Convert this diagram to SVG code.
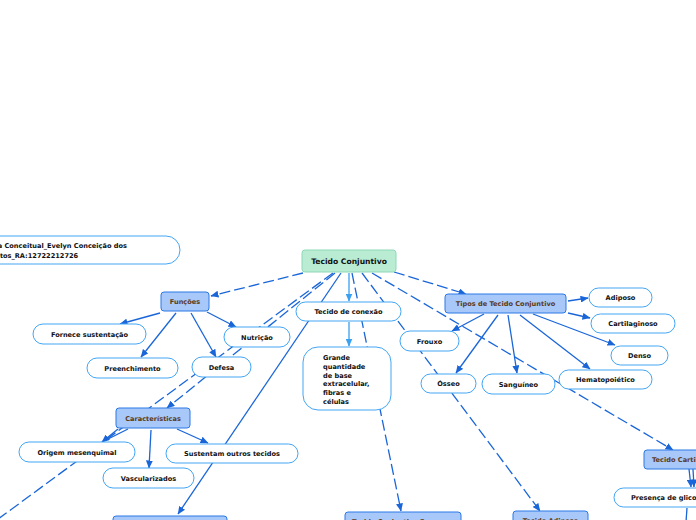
<svg xmlns="http://www.w3.org/2000/svg" width="696" height="520" viewBox="0 0 696 520">
<defs>
<marker id="ah" viewBox="0 0 8 7" refX="7.5" refY="3.5" markerWidth="8" markerHeight="7" markerUnits="userSpaceOnUse" orient="auto"><path d="M0,0 L8,3.5 L0,7 z" fill="#1a66d9"/></marker>
<marker id="ahl" viewBox="0 0 8 7" refX="7.5" refY="3.5" markerWidth="8" markerHeight="7" markerUnits="userSpaceOnUse" orient="auto"><path d="M0,0 L8,3.5 L0,7 z" fill="#3aa0f0"/></marker>
<style>
.e{fill:none;stroke:#1a66d9;stroke-width:1.3}
.d{stroke-dasharray:11 4}
.l{fill:none;stroke:#3aa0f0;stroke-width:1.3}
.w{fill:#fff;stroke:#42a5f5;stroke-width:1}
.b{fill:#a8c8fa;stroke:#2b78e4;stroke-width:1}
.r{fill:#b9ecd3;stroke:#8fd8b8;stroke-width:1}
text{font-family:"DejaVu Sans",Verdana,sans-serif;font-weight:bold;font-size:6.6px;fill:#111}
.bt{fill:#5b3a1a}
.c{text-anchor:middle}
</style>
</defs>
<rect width="696" height="520" fill="#fff"/>
<g id="connectors">
<path class="e d" d="M303,273 L211,296" marker-end="url(#ah)"/>
<path class="e d" d="M333,273 L-10,525"/>
<path class="e d" d="M335,273 L167,408" marker-end="url(#ah)"/>
<path class="e" d="M341,273 L178,514" marker-end="url(#ah)"/>
<path class="l" d="M349,273 L349,301" marker-end="url(#ahl)"/>
<path class="l" d="M349,322 L349,346" marker-end="url(#ahl)"/>
<path class="e d" d="M352,273 L401,511" marker-end="url(#ah)"/>
<path class="e d" d="M362,273 L540,511" marker-end="url(#ah)"/>
<path class="e d" d="M372,273 L673,450" marker-end="url(#ah)"/>
<path class="e d" d="M394,272 L466,294" marker-end="url(#ah)"/>
<path class="e" d="M160,313 L120,324" marker-end="url(#ah)"/>
<path class="e" d="M176,313 L141,357" marker-end="url(#ah)"/>
<path class="e" d="M191,313 L216,357" marker-end="url(#ah)"/>
<path class="e" d="M207,312 L236,327" marker-end="url(#ah)"/>
<path class="e" d="M118,429 L102,442" marker-end="url(#ah)"/>
<path class="e" d="M128,429 L102,442"/>
<path class="e" d="M151,430 L149,468" marker-end="url(#ah)"/>
<path class="e" d="M177,429 L208,443" marker-end="url(#ah)"/>
<path class="e" d="M568,301 L588,298" marker-end="url(#ah)"/>
<path class="e" d="M568,313 L590,318" marker-end="url(#ah)"/>
<path class="e" d="M533,314 L615,345" marker-end="url(#ah)"/>
<path class="e" d="M520,315 L590,369" marker-end="url(#ah)"/>
<path class="e" d="M508,315 L517,373" marker-end="url(#ah)"/>
<path class="e" d="M498,315 L456,373" marker-end="url(#ah)"/>
<path class="e" d="M484,314 L452,331" marker-end="url(#ah)"/>
<path class="e" d="M689,469 L691,487" marker-end="url(#ah)"/>
<path class="e" d="M693,469 L694,487" marker-end="url(#ah)"/>
<path class="e" d="M687,508 L686,522"/>
</g>
<g id="title"><rect class="w" x="-40" y="236" width="220" height="28" rx="14"/><text x="-18" y="248">Mapa Conceitual_Evelyn Conceição dos</text><text x="-14" y="257.5">Santos_RA:12722212726</text></g>
<g id="root"><rect class="r" x="302" y="250" width="94" height="22" rx="3"/><text class="c" x="349" y="264" style="font-size:7.6px">Tecido Conjuntivo</text></g>
<g id="funcoes"><rect class="b" x="161" y="292" width="48" height="19" rx="3"/><text class="c bt" x="185" y="304">Funções</text></g>
<g id="fornece"><rect class="w" x="33" y="324" width="113" height="20" rx="10"/><text class="c" x="89.5" y="336.5">Fornece sustentação</text></g>
<g id="preenchimento"><rect class="w" x="87" y="358" width="91" height="20" rx="10"/><text class="c" x="132.5" y="370.5">Preenchimento</text></g>
<g id="defesa"><rect class="w" x="192" y="357" width="59" height="20" rx="10"/><text class="c" x="221.5" y="369.5">Defesa</text></g>
<g id="nutricao"><rect class="w" x="224" y="327" width="66" height="20" rx="10"/><text class="c" x="257" y="339.5">Nutrição</text></g>
<g id="caracteristicas"><rect class="b" x="116" y="408" width="74" height="20" rx="3"/><text class="c bt" x="153" y="420.5">Características</text></g>
<g id="origem"><rect class="w" x="19" y="442" width="116" height="20" rx="10"/><text class="c" x="77" y="454.5">Origem mesenquimal</text></g>
<g id="vascularizados"><rect class="w" x="103" y="468" width="91" height="20" rx="10"/><text class="c" x="148.5" y="480.5">Vascularizados</text></g>
<g id="sustentam"><rect class="w" x="166" y="444" width="132" height="19" rx="9.5"/><text class="c" x="232" y="456">Sustentam outros tecidos</text></g>
<g id="conexao"><rect class="w" x="296" y="302" width="105" height="19" rx="9.5"/><text class="c" x="348.5" y="314">Tecido de conexão</text></g>
<g id="grande"><rect class="w" x="303" y="347" width="88" height="63" rx="15"/>
<text x="323" y="360">Grande</text><text x="323" y="369">quantidade</text><text x="323" y="377.5">de base</text><text x="323" y="386">extracelular,</text><text x="323" y="394.5">fibras e</text><text x="323" y="403.5">células</text></g>
<g id="tipos"><rect class="b" x="445" y="294" width="121" height="19" rx="3"/><text class="c bt" x="505.5" y="306">Tipos de Tecido Conjuntivo</text></g>
<g id="adiposo"><rect class="w" x="589" y="288" width="63" height="19" rx="9.5"/><text class="c" x="620.5" y="300">Adiposo</text></g>
<g id="cartilaginoso"><rect class="w" x="591" y="314" width="84" height="19" rx="9.5"/><text class="c" x="633" y="326">Cartilaginoso</text></g>
<g id="denso"><rect class="w" x="611" y="346" width="57" height="19" rx="9.5"/><text class="c" x="639.5" y="358">Denso</text></g>
<g id="hematopoietico"><rect class="w" x="559" y="370" width="93" height="19" rx="9.5"/><text class="c" x="605.5" y="382">Hematopoiético</text></g>
<g id="sanguineo"><rect class="w" x="482" y="374" width="73" height="20" rx="10"/><text class="c" x="518.5" y="386.5">Sanguíneo</text></g>
<g id="osseo"><rect class="w" x="421" y="374" width="55" height="19" rx="9.5"/><text class="c" x="448.5" y="386">Ósseo</text></g>
<g id="frouxo"><rect class="w" x="400" y="331" width="59" height="20" rx="10"/><text class="c" x="429.5" y="343.5">Frouxo</text></g>
<g id="tecido-cartilaginoso"><rect class="b" x="644" y="450" width="70" height="19" rx="3"/><text class="bt" x="652" y="462">Tecido Cartilaginoso</text></g>
<g id="presenca"><rect class="w" x="614" y="488" width="100" height="19" rx="9.5"/><text x="631" y="500">Presença de glicosaminoglicanos</text></g>
<g id="bottom-left"><rect class="b" x="113" y="516" width="114" height="20" rx="3"/></g>
<g id="tecido-conjuntivo-f"><rect class="b" x="345" y="512" width="116" height="20" rx="3"/><text class="bt" x="352" y="524">Tecido Conjuntivo Frouxo</text></g>
<g id="tecido-adiposo"><rect class="b" x="513" y="511" width="75" height="20" rx="3"/><text class="c bt" x="550.5" y="523">Tecido Adiposo</text></g>
</svg>
